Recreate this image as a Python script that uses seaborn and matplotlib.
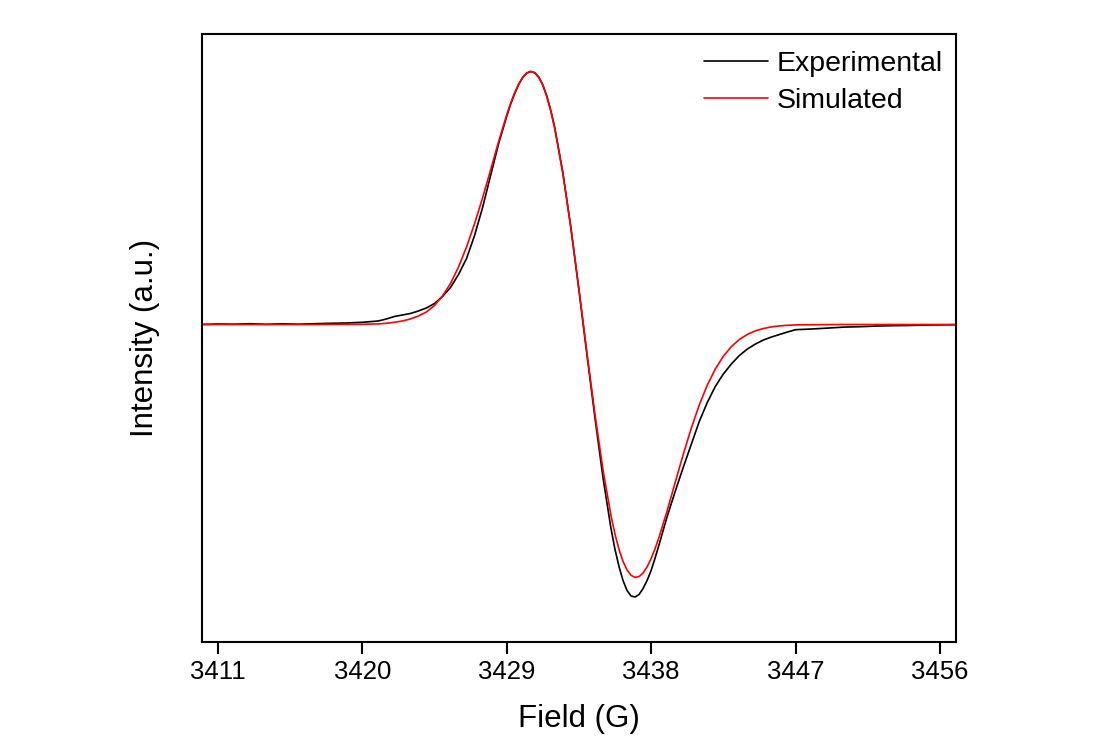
import matplotlib
matplotlib.use("Agg")
import matplotlib.pyplot as plt
import pandas as pd
import seaborn as sns

# Magnetic field (G)
field = [
    3410, 3411, 3412, 3413, 3414, 3415, 3416, 3417, 3418, 3419, 3420, 3421,
    3421.5, 3422, 3422.5, 3423, 3423.5, 3424, 3424.5, 3425, 3425.5, 3426,
    3426.5, 3427, 3427.5, 3428, 3428.5, 3429, 3429.25, 3429.5, 3429.75, 3430,
    3430.25, 3430.5, 3430.75, 3431, 3431.25, 3431.5, 3431.75, 3432, 3432.5, 3433,
    3433.5, 3434, 3434.5, 3435, 3435.5, 3435.75, 3436, 3436.25, 3436.5, 3436.75,
    3437, 3437.25, 3437.5, 3437.75, 3438, 3438.25, 3438.5, 3439, 3439.5, 3440,
    3440.5, 3441, 3441.5, 3442, 3442.5, 3443, 3443.5, 3444, 3444.5, 3445,
    3445.5, 3446, 3446.5, 3447,
    3448, 3449, 3450, 3451, 3452, 3453, 3454, 3455, 3456, 3457,
]

# Measured first-derivative EPR signal (a.u.)
experimental = [
    0, 0.5, 0.3, 0.8, 0.2, 0.7, 0.3, 0.8, 1.2, 1.5, 2.2, 3.5,
    5.5, 8, 9.5, 11, 13.5, 16.5, 21, 28, 37, 50,
    66, 89, 117, 149, 181, 208, 220.5, 231, 240, 247,
    251.5, 253, 251.8, 247.5, 239.8, 228.5, 214, 196.5, 152, 97,
    35, -30, -93, -153, -204, -225, -242, -256, -266, -271.5,
    -272.5, -270, -264, -256, -246, -233.5, -220, -192, -167, -143,
    -120, -97, -78, -62, -49.5, -39.5, -31, -24.5, -19.5, -15.5,
    -12.5, -10, -7.5, -5.2,
    -4.5, -3.6, -2.6, -2.2, -1.6, -1.2, -1.0, -0.6, -0.4, -0.2,
]

# Fitted spectrum (a.u.)
simulated = [
    0, 0, 0, 0, 0, 0, 0, 0, 0.1, 0.1, 0.2, 0.6,
    1.2, 2.2, 3.5, 5.5, 8.5, 12.5, 19, 28.5, 41, 57.5,
    77.5, 100.8, 126.7, 154.6, 183, 209.5, 221.4, 231.8, 240.6, 247.2,
    251.5, 253, 251.6, 247, 239.3, 228, 213.6, 195.7, 151.1, 96.7,
    35.6, -28, -89.7, -145.2, -191.1, -209.6, -224.9, -236.9, -245.5, -250.8,
    -252.9, -252.1, -248.5, -242.4, -234.1, -224.0, -212.5, -186.2, -158, -130,
    -103.8, -80.5, -60.7, -44.5, -31.8, -22.1, -15, -9.9, -6.3, -4,
    -2.4, -1.4, -0.8, -0.4,
    -0.2, -0.1, 0, 0, 0, 0, 0, 0, 0, 0,
]

series_names = ["Experimental", "Simulated"]
series_colors = {"Experimental": "#000000", "Simulated": "#ff0000"}
x_ticks = [3411, 3420, 3429, 3438, 3447, 3456]

df = pd.concat([
    pd.DataFrame({"Field": field, "Intensity": experimental, "Series": series_names[0]}),
    pd.DataFrame({"Field": field, "Intensity": simulated, "Series": series_names[1]}),
], ignore_index=True)

sns.set_style("ticks")
plt.rcParams["font.family"] = ["Liberation Sans", "DejaVu Sans"]
plt.rcParams["text.color"] = "black"
plt.rcParams["axes.labelcolor"] = "black"

fig = plt.figure(figsize=(10.97, 7.44), dpi=100)
ax = fig.add_axes([0.1839, 0.1375, 0.6876, 0.8168])

sns.lineplot(data=df, x="Field", y="Intensity", hue="Series",
             hue_order=series_names, palette=series_colors,
             estimator=None, sort=False, linewidth=1.2, ax=ax)

ax.set_xlim(3410, 3457)
ax.set_ylim(-317.2, 290.5)
ax.set_xticks(x_ticks)
ax.set_xticklabels([str(t) for t in x_ticks])
ax.set_yticks([])

for side in ["left", "right", "top", "bottom"]:
    ax.spines[side].set_visible(True)
    ax.spines[side].set_linewidth(1.5)
    ax.spines[side].set_color("black")

ax.tick_params(axis="x", direction="out", length=8.5, width=1.5,
               labelsize=18.5, pad=5, colors="black", labelcolor="black")

ax.set_xlabel("Field (G)", fontsize=22.5, labelpad=14, color="black")
ax.set_ylabel("Intensity (a.u.)", fontsize=22.5, labelpad=30, color="black")

leg = ax.legend(loc="upper right", bbox_to_anchor=(1.0055, 1.0),
                frameon=False, fontsize=20.5,
                handlelength=2.25, handletextpad=0.32, labelspacing=0.38,
                borderaxespad=0.3, borderpad=0.3)
for line in leg.get_lines():
    line.set_linewidth(1.2)
for text in leg.get_texts():
    text.set_color("black")

fig.savefig("out.png", dpi=100, facecolor="white")
